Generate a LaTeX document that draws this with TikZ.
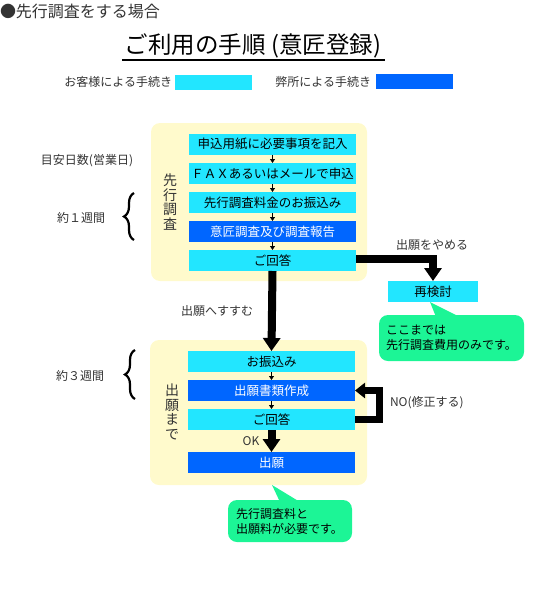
\documentclass[tikz,border=0pt]{standalone}
\usepackage{fontspec}
\setmainfont{Noto Sans CJK JP}
\usetikzlibrary{arrows.meta,decorations.pathreplacing}
\definecolor{cust}{HTML}{22E6FF}
\definecolor{firm}{HTML}{0066FF}
\definecolor{pale}{HTML}{FFFACC}
\definecolor{note}{HTML}{1CF596}
\definecolor{txt}{HTML}{333333}
\begin{document}
\begin{tikzpicture}[x=1pt,y=-1pt,
  every node/.style={inner sep=0pt, outer sep=0pt},
  custbox/.style={fill=cust, minimum width=167pt, minimum height=21pt, font=\fontsize{12.5}{14}\selectfont, text=black},
  firmbox/.style={custbox, fill=firm, text=white},
  smallarrow/.style={-{Triangle[width=5pt,length=4pt]}, line width=0.8pt},
  bigarrow/.style={line width=8pt, -{Triangle[width=17pt,length=13pt]}},
  loop/.style={line width=7pt, -{Triangle[width=15pt,length=10pt]}},
  lbl/.style={font=\fontsize{12}{14}\selectfont, text=txt},
  panel/.style={fill=pale, rounded corners=9pt},
  vert/.style={font=\fontsize{14}{14.5}\selectfont, align=center, text=txt},
  callout/.style={fill=note, rounded corners=9pt, font=\fontsize{12}{15}\selectfont, align=left, text=black},
  bracestyle/.style={decorate, decoration={brace, amplitude=10pt}, line width=2.2pt},
]
\useasboundingbox (0,0) rectangle (551,600);

% headings
\node[anchor=west, font=\fontsize{16}{18}\selectfont, text=txt] (head) at (0,11) {●先行調査をする場合};
\node[font=\fontsize{23.5}{26}\selectfont, text=black] (title) at (253,46) {ご利用の手順 (意匠登録)};
\draw[line width=1.2pt] (122,60) coordinate (ul1) -- (385,60) coordinate (ul2);

% legend
\node[lbl, anchor=east] (lg1) at (172,82) {お客様による手続き};
\node[fill=cust, minimum width=77pt, minimum height=15pt, anchor=west] (lgc) at (175,82.5) {};
\node[lbl, anchor=east] (lg2) at (371,82) {弊所による手続き};
\node[fill=firm, minimum width=77pt, minimum height=15pt, anchor=west] (lgf) at (376,81.5) {};

% panels
\node[panel, minimum width=216pt, minimum height=158pt] (p1) at (259,202) {};
\node[panel, minimum width=217pt, minimum height=145pt] (p2) at (258.5,412.5) {};

\node[vert] (v1) at (170,202) {先\\行\\調\\査};
\node[vert] (v2) at (172,412) {出\\願\\ま\\で};

% upper steps
\node[custbox] (s1) at (272.5,144) {申込用紙に必要事項を記入};
\node[custbox] (s2) at (272.5,173.5) {ＦＡＸあるいはメールで申込};
\node[custbox] (s3) at (272.5,202.5) {先行調査料金のお振込み};
\node[firmbox] (s4) at (272.5,231.5) {意匠調査及び調査報告};
\node[custbox] (s5) at (272.5,260.5) {ご回答};
\draw[smallarrow] (s1) -- (s2);
\draw[smallarrow] (s2) -- (s3);
\draw[smallarrow] (s3) -- (s4);
\draw[smallarrow] (s4) -- (s5);

% lower steps
\node[custbox] (o1) at (271.5,361.5) {お振込み};
\node[firmbox] (o2) at (271.5,390.5) {出願書類作成};
\node[custbox] (o3) at (271.5,419.5) {ご回答};
\node[firmbox] (o4) at (271.5,462.5) {出願};
\draw[smallarrow] (o1) -- (o2);
\draw[smallarrow] (o2) -- (o3);

% re-examine
\node[fill=cust, minimum width=90pt, minimum height=21pt, font=\fontsize{12.5}{14}\selectfont] (re) at (433,291.5) {再検討};
\draw[bigarrow, line width=8pt] ([yshift=2pt]s5.east) -| (re.north);
\node[lbl] (stop) at (432,245) {出願をやめる};

% go ahead
\draw[bigarrow] (s5.south) -- (o1.north);
\node[lbl] (go) at (217,311) {出願へすすむ};

% NO loop
\draw[loop] (o3.east) -- ++(24,0) |- (o2.east);
\node[lbl, anchor=west] (no) at (390,403) {NO(修正する)};

% OK
\draw[bigarrow] (o3.south) -- (o4.north);
\node[lbl] (ok) at (251,441) {OK};

% callouts
\fill[note] (430,302) -- (436,317) -- (460,317) -- cycle;
\node[callout, minimum width=145pt, minimum height=46pt, text width=131pt] (c1) at (451.5,338) {ここまでは\\先行調査費用のみです。};
\fill[note] (272,485) -- (280,502) -- (300,502) -- cycle;
\node[callout, minimum width=124pt, minimum height=42pt, text width=108pt] (c2) at (290,521) {先行調査料と\\出願料が必要です。};

% left labels
\node[lbl] (days) at (87,161) {目安日数(営業日)};
\node[lbl] (w1) at (81,218) {約１週間};
\draw[bracestyle] (134,240) -- (134,193);
\node[lbl] (w3) at (80,376) {約３週間};
\draw[bracestyle] (135,399) -- (135,350);
\end{tikzpicture}
\end{document}
